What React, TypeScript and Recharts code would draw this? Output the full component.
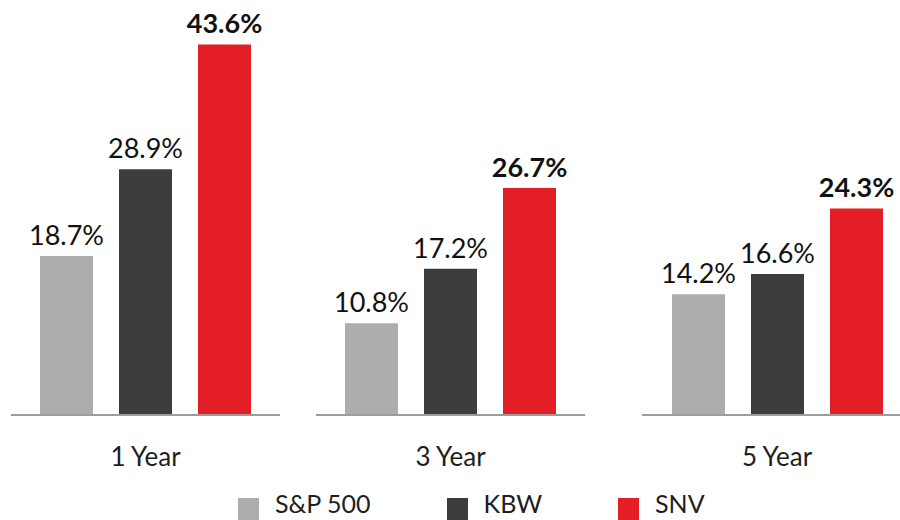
import { BarChart, Bar, XAxis, YAxis, LabelList } from 'recharts';

const periods = ['1 Year', '3 Year', '5 Year'];
const spValues = [18.7, 10.8, 14.2];
const kbwValues = [28.9, 17.2, 16.6];
const snvValues = [43.6, 26.7, 24.3];

const series = [
  { key: 'sp', name: 'S&P 500', color: '#ADADAD', bold: false },
  { key: 'kbw', name: 'KBW', color: '#3C3D3D', bold: false },
  { key: 'snv', name: 'SNV', color: '#E31E26', bold: true },
];

// each period gets its own little chart so the baselines are split
const panels = [
  { left: 11, width: 269 },
  { left: 316, width: 269 },
  { left: 642, width: 270 },
];

const FONT = 'Lato, "Noto Sans", sans-serif';

const pct = (v: any) => `${v}%`;

function PeriodChart({ idx }: { idx: number }) {
  const data = [
    { name: periods[idx], sp: spValues[idx], kbw: kbwValues[idx], snv: snvValues[idx] },
  ];
  const { left, width } = panels[idx];
  return (
    <div style={{ position: 'absolute', left, top: 0 }}>
      <BarChart
        width={width}
        height={475}
        data={data}
        margin={{ top: 7, right: 0, bottom: 0, left: 0 }}
        barGap={26}
      >
        <XAxis
          dataKey="name"
          height={60}
          tickLine={false}
          tickMargin={27}
          axisLine={{ stroke: '#9C9C9C', strokeWidth: 2 }}
          tick={{ fontSize: 26, fill: '#1E1E1E', fontFamily: FONT }}
        />
        <YAxis hide domain={[0, 48]} />
        {series.map((s) => (
          <Bar key={s.key} dataKey={s.key} fill={s.color} barSize={53} isAnimationActive={false}>
            <LabelList
              dataKey={s.key}
              position="top"
              offset={11}
              formatter={pct}
              style={{
                fontSize: 27,
                fill: '#111',
                fontFamily: FONT,
                fontWeight: s.bold ? 700 : 400,
              }}
            />
          </Bar>
        ))}
      </BarChart>
    </div>
  );
}

export default function App() {
  return (
    <div
      style={{
        position: 'fixed',
        left: 0,
        top: 0,
        width: 900,
        height: 520,
        overflow: 'hidden',
        background: '#fff',
        fontFamily: FONT,
      }}
    >
      {periods.map((p, i) => (
        <PeriodChart key={p} idx={i} />
      ))}
      <div style={{ position: 'absolute', left: 238, top: 492, display: 'flex', gap: 76 }}>
        {series.map((s) => (
          <div key={s.key} style={{ display: 'flex', alignItems: 'flex-start' }}>
            <div style={{ width: 21, height: 24, background: s.color, marginTop: 6, marginRight: 16 }} />
            <span style={{ fontSize: 25, lineHeight: '22px', color: '#1E1E1E' }}>{s.name}</span>
          </div>
        ))}
      </div>
    </div>
  );
}
